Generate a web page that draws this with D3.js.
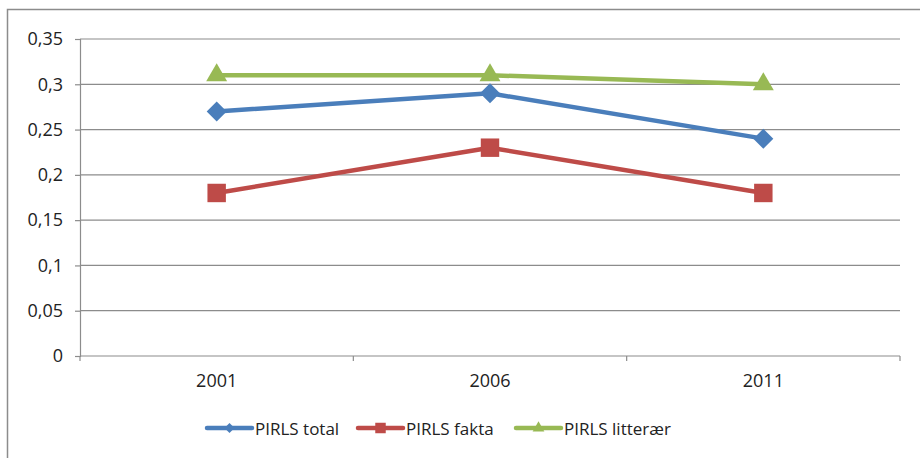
<!DOCTYPE html>
<html>
<head>
<meta charset="utf-8">
<script src="https://cdn.jsdelivr.net/npm/d3@7"></script>
<style>
  body { margin: 0; background: #fff; }
  text { font-family: "Open Sans", "Noto Sans", sans-serif; fill: #222; }
</style>
</head>
<body>
<div id="chart"></div>
<script>
(function() {
  var years = ["2001", "2006", "2011"]
  var yTicks = [0, 0.05, 0.1, 0.15, 0.2, 0.25, 0.3, 0.35]
  var seriesNames = ["PIRLS total", "PIRLS fakta", "PIRLS litterær"]
  var totalValues = [0.27, 0.29, 0.24]
  var faktaValues = [0.18, 0.23, 0.18]
  var litteraerValues = [0.31, 0.31, 0.30]
  var colors = ["#4a7ebb", "#be4b48", "#98b954"]
  var shapes = ["diamond", "square", "triangle"]

  var series = [totalValues, faktaValues, litteraerValues].map(function(vals, i) {
    return { name: seriesNames[i], color: colors[i], shape: shapes[i],
      points: vals.map(function(v, j) { return { year: years[j], value: v } }) }
  })

  // marker path + rotation for each shape
  function marker(shape, big) {
    if (shape === "diamond") return { d: d3.symbol().type(d3.symbolSquare).size(big ? 200 : 50)(), rot: 45 }
    if (shape === "square") return { d: d3.symbol().type(d3.symbolSquare).size(big ? 340 : 110)(), rot: 0 }
    return { d: d3.symbol().type(d3.symbolTriangle).size(big ? 190 : 60)(), rot: 0 }
  }

  var fullWidth = 920, fullHeight = 458
  var margin = { top: 39, left: 80, right: 20, bottom: 102 },
    width = fullWidth - margin.left - margin.right,
    height = fullHeight - margin.top - margin.bottom

  var root = d3.select("#chart").append("svg")
    .attr("width", fullWidth)
    .attr("height", fullHeight)

  // outer frame
  root.append("rect")
    .attr("x", 7.5).attr("y", 9.5)
    .attr("width", 930).attr("height", 470)
    .attr("fill", "none").attr("stroke", "#8c8c8c").attr("stroke-width", 1.5)

  var svg = root.append("g")
    .attr("transform", "translate(" + margin.left + "," + margin.top + ")")

  var xPositionScale = d3.scaleBand().domain(years).range([0, width])
  var yPositionScale = d3.scaleLinear().domain([0, 0.35]).range([height, 0])

  // gridlines
  svg.selectAll(".grid")
    .data(yTicks.slice(1))
    .enter().append("line")
    .attr("class", "grid")
    .attr("x1", 0).attr("x2", width)
    .attr("y1", function(d) { return yPositionScale(d) })
    .attr("y2", function(d) { return yPositionScale(d) })
    .attr("stroke", "#8c8c8c").attr("stroke-width", 1.2)

  var yAxis = d3.axisLeft(yPositionScale)
    .tickValues(yTicks)
    .tickSize(5)
    .tickPadding(12)
    .tickFormat(function(d) { return String(+d.toFixed(2)).replace(".", ",") })
  var yG = svg.append("g").attr("class", "axis y-axis").call(yAxis)
  yG.attr("font-size", null).attr("font-family", null)
  yG.select(".domain").attr("stroke", "#8c8c8c").attr("stroke-width", 1.2)
  yG.selectAll(".tick line").attr("stroke", "#8c8c8c").attr("stroke-width", 1.2)
  yG.selectAll("text").style("font-size", "18px").attr("fill", "#222")

  // x axis with ticks at band boundaries
  var xAxis = d3.axisBottom(xPositionScale).tickSize(0).tickPadding(18)
  var xG = svg.append("g").attr("class", "axis x-axis")
    .attr("transform", "translate(0," + height + ")")
    .call(xAxis)
  xG.attr("font-size", null).attr("font-family", null)
  xG.select(".domain").remove()
  xG.append("line").attr("x1", 0).attr("x2", width)
    .attr("stroke", "#8c8c8c").attr("stroke-width", 1.2)
  var bounds = years.map(function(y) { return xPositionScale(y) }).concat([width])
  xG.selectAll(".btick").data(bounds).enter().append("line")
    .attr("class", "btick")
    .attr("x1", function(d) { return d }).attr("x2", function(d) { return d })
    .attr("y1", 0).attr("y2", 5)
    .attr("stroke", "#8c8c8c").attr("stroke-width", 1.2)
  xG.selectAll("text").style("font-size", "18px").attr("fill", "#222")

  var line = d3.line()
    .x(function(d) { return xPositionScale(d.year) + xPositionScale.bandwidth() / 2 })
    .y(function(d) { return yPositionScale(d.value) })

  series.forEach(function(s) {
    svg.append("path")
      .datum(s.points)
      .attr("d", line)
      .attr("fill", "none")
      .attr("stroke", s.color)
      .attr("stroke-width", 4.5)
      .attr("stroke-linejoin", "round")
      .attr("stroke-linecap", "round")

    var m = marker(s.shape, true)
    svg.selectAll(".m-" + s.shape)
      .data(s.points)
      .enter().append("path")
      .attr("d", m.d)
      .attr("transform", function(d) {
        return "translate(" + (xPositionScale(d.year) + xPositionScale.bandwidth() / 2) + "," + yPositionScale(d.value) + ") rotate(" + m.rot + ")"
      })
      .attr("fill", s.color)
  })

  // legend
  var legendX = [207, 358, 516]
  var legend = root.append("g").attr("transform", "translate(0,428)")
  series.forEach(function(s, i) {
    var g = legend.append("g").attr("transform", "translate(" + legendX[i] + ",0)")
    g.append("line").attr("x1", 0).attr("x2", 45)
      .attr("stroke", s.color).attr("stroke-width", 4.5).attr("stroke-linecap", "round")
    var m = marker(s.shape, false)
    g.append("path")
      .attr("d", m.d)
      .attr("transform", "translate(22.5,0) rotate(" + m.rot + ")")
      .attr("fill", s.color)
    g.append("text").attr("x", 48).attr("y", 6.5)
      .style("font-size", "17px").text(s.name)
  })
})();
</script>
</body>
</html>
